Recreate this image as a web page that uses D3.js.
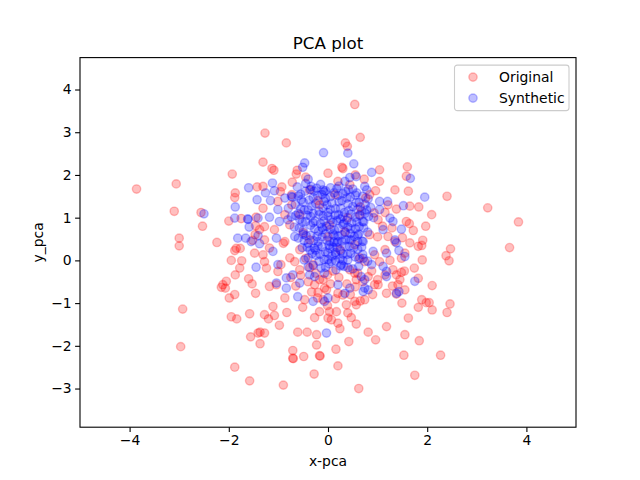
<!DOCTYPE html>
<html>
<head>
<meta charset="utf-8">
<script src="https://cdn.jsdelivr.net/npm/d3@7"></script>
<style>
  body { margin: 0; background: #fff; }
  text { font-family: "DejaVu Sans", sans-serif; }
</style>
</head>
<body>
<div id="pca_plot"></div>
<script>
// points, in PCA units
var originalX = [-3.86, -3.06, -1.93, -3.10, -2.56, -2.53, -3.00, -3.00, -2.24, -1.87, -1.88, -2.00, -1.75, -1.85, -1.77, -1.88, -1.95, -1.74, -1.78, -1.87,
  -2.05, -2.12, -2.15, -2.07, -1.99, -1.88, -2.93, -1.95, -1.84, -2.97, -1.88, -1.60, -1.58, -1.56, -1.58, -1.43, -1.46, -1.47, -1.52, -1.46,
  -1.41, -1.53, 0.54, -1.27, 0.65, -0.84, -1.31, -1.13, -1.09, -0.62, -0.64, -0.72, 0.00, -1.31, -0.93, -0.96, -0.73, -0.73, -1.31, -1.01,
  -1.45, -1.28, -1.38, 0.35, 0.39, 0.28, 0.30, 1.04, 0.73, 1.04, 0.96, 1.60, 1.58, 1.62, 0.76, 1.38, 1.15, 0.93, 1.01, 1.58,
  1.21, 2.40, 1.65, 1.83, 3.22, 2.09, 3.84, 1.64, 1.72, 1.97, 1.50, 1.65, 1.91, 1.89, 1.82, 2.47, 3.66, 2.38, 2.44, 1.90,
  1.48, 1.74, 1.54, 1.48, 1.82, 1.38, 1.41, 1.55, 2.10, 1.49, 1.89, 1.98, 2.04, 1.82, 2.10, 2.46, 2.40, 1.62, 1.55, 1.84,
  1.53, 2.27, 1.75, -1.37, -0.71, -0.71, -0.70, -0.49, -0.23, -0.17, -0.16, 0.16, 0.42, 0.96, 0.20, -0.28, -0.90, 0.62, -1.48, -1.31,
  -1.28, -1.24, -1.18, -1.04, -0.87, -1.11, -0.83, -1.28, -1.20, -1.08, -0.98, -1.37, -1.28, -0.61, -0.42, -0.23, -0.51, -0.47, -0.27, -0.17,
  -0.10, -0.07, -0.27, -0.87, -1.18, -1.28, -1.01, -0.57, -0.37, -0.17, -0.01, -0.33, -0.67, -0.77, -0.21, -0.01, 1.35, 1.55, 1.31, 1.15,
  1.01, 1.45, 1.18, 1.38, 0.44, 0.54, 0.57, 0.81, 0.94, 0.20, 0.30, 0.54, 0.74, 0.37, 0.57, 0.40, 0.03, 0.17, 0.00, 0.20,
  0.47, 0.07, 0.24, 0.57, 1.18, 0.81, -0.03, -0.57, 0.03, 0.34, 0.64, 0.84, -0.37, 0.24, 0.54, 0.94, -0.17, -0.77, -0.57, 0.74,
  1.15, 1.04, 1.29, 0.84, 0.44, 0.14, -0.37, -0.87, -1.08, 1.35, 1.21, 0.64,
  -0.55, -0.40, -0.25, -0.10, 0.05, 0.22, 0.38, 0.55, 0.70, -0.45, -0.30, 0.10, 0.60, 0.88, 1.00, -0.65, -0.20, 0.15,
  0.45, 0.65, 0.90, -0.50, 0.00, 0.40, -0.20, 0.65, 0.20, -0.45, 0.55, 1.00, 1.10, -0.90, -0.95, -0.75, 1.25, 1.30];
var originalY = [1.67, 1.79, 2.02, 1.15, 1.12, 0.80, 0.52, 0.34, 0.42, 1.58, 1.47, 0.92, 0.98, 0.28, 0.28, 0.23, 0.00, -0.01, -0.18, -0.34,
  -0.49, -0.57, -0.63, -0.65, -0.88, -0.80, -1.14, -1.32, -1.37, -2.02, -2.50, -0.43, -1.25, -1.79, -2.82, 1.72, 0.81, 0.60, 0.47, -0.77,
  -1.70, -0.55, 3.65, 2.98, 2.88, 2.75, 2.30, 2.15, 2.11, 2.11, 2.02, 1.83, 2.04, 1.73, 1.72, 1.61, 1.54, 1.30, 1.22, 1.38,
  1.01, 0.79, 0.72, 2.75, 2.67, 2.18, 2.15, 2.12, 1.90, 1.85, 1.63, 2.19, 1.97, 1.62, 1.46, 1.20, 1.12, 1.11, 0.95, 0.91,
  0.56, 1.50, 1.27, 1.25, 1.23, 1.07, 0.90, 0.86, 0.70, 0.80, 0.53, 0.41, 0.47, 0.35, 0.33, 0.27, 0.30, 0.11, -0.01, 0.01,
  0.05, -0.18, -0.25, -0.28, -0.42, -0.34, -0.57, -0.69, -0.59, -1.00, -0.92, -0.99, -0.99, -1.10, -1.16, -1.02, -1.22, -1.35, -1.74, -1.88,
  -2.22, -2.22, -2.69, -1.95, -2.11, -2.29, -2.30, -2.25, -1.98, -2.23, -2.24, -2.08, -1.90, -1.86, -2.47, -2.66, -2.92, -3.00, 0.17, 0.13,
  -0.03, -0.18, -0.61, -0.57, -0.88, -1.08, -1.22, -1.27, -1.37, -1.29, -1.52, -1.68, -1.70, -1.68, -1.68, -1.74, -1.10, -0.92, -1.34, -1.20,
  -0.92, -0.65, -0.57, 0.44, 0.29, 0.48, -0.26, -0.22, -0.17, -0.45, -0.34, -0.74, -0.03, 0.06, -0.88, -1.06, 0.44, 0.17, -0.22, -0.34,
  -0.57, -0.45, -0.77, -0.79, -0.22, -0.30, -0.45, -0.38, -0.57, -0.77, -0.81, -0.96, -0.92, -1.04, -1.04, -1.23, -1.20, -1.20, -1.35, -1.47,
  -1.34, -1.39, -1.60, -1.49, -1.55, -1.68, -0.69, 1.07, 0.83, 0.67, 1.07, 0.60, 0.48, 0.25, 0.37, 0.13, 1.30, 0.83, 0.25, -0.03,
  0.25, -0.03, 0.76, 1.54, 1.77, 1.54, 1.65, 1.07, 0.72, 1.65, 1.30, 0.06,
  -0.35, -0.50, -0.30, -0.45, -0.55, -0.40, -0.55, -0.62, -0.50, 0.05, -0.10, -0.25, -0.30, -0.25, -0.45, -0.60, -0.75, -0.90,
  -0.80, -0.95, -0.80, 0.65, 0.55, 1.00, 1.40, 1.25, 1.85, 1.95, 2.00, 0.55, 0.80, 0.40, -0.10, -0.40, 0.00, -0.60];

var syntheticX = [-2.50, -1.87, -1.88, -1.62, -1.61, -1.60, -1.82, -1.66, -1.59, -1.43, -1.41, -1.38, -1.45, -0.09, -0.47, -0.51, -0.40, -1.12, -1.26, -1.08,
  -1.16, -0.87, -0.74, -0.54, -0.34, -0.23, -0.10, -1.18, -1.01, -0.81, -0.98, -1.41, -1.04, -0.67, 0.40, 0.52, 0.88, 0.34, 0.44, 0.57,
  0.74, 0.78, 1.04, 1.20, 1.04, 1.52, 1.25, 1.31, 1.48, 1.11, 1.66, 1.95, 1.38, 1.35, 1.55, 1.43, 1.75, 1.43, 1.38, -1.55,
  -1.01, -1.11, -0.84, -1.04, -0.84, -0.61, -0.30, -0.71, -0.57, -0.37, -0.27, -0.07, -0.03, 0.20, 0.47, 0.71, 0.91, 1.18, 0.07, 0.27,
  0.40, 0.71, 0.88, 1.11, 1.18, 1.18, 0.67, 0.74, 0.20, 0.44, 0.34, 0.74, 0.81, 0.71, 0.00, -0.07,
  -0.62, -0.45, -0.28, -0.15, 0.05, 0.22, 0.41, 0.58, -0.72, -0.55, -0.38, -0.21, -0.05, 0.12, 0.28, 0.45, 0.63, 0.81,
  -0.80, -0.66, -0.48, -0.33, -0.18, -0.02, 0.15, 0.33, 0.50, 0.68, 0.86, -0.74, -0.57, -0.42, -0.26, -0.10, 0.06, 0.21, 0.38, 0.55, 0.72, 0.92,
  -0.68, -0.50, -0.35, -0.19, -0.03, 0.13, 0.30, 0.46, 0.63, 0.80, -0.60, -0.44, -0.29, -0.12, 0.04, 0.20, 0.36, 0.53, 0.69,
  -0.52, -0.36, -0.20, -0.06, 0.10, 0.26, 0.43, 0.60, -0.40, -0.24, -0.08, 0.08, 0.24, 0.39, 0.55, -0.30, -0.14, 0.02, 0.16, 0.32, 0.50,
  -0.46, -0.08, 0.30, -0.30, 0.00, 0.25, -0.15, 0.10, -0.40, 0.35, -0.22, 0.02, 0.18, -0.10, 0.48, -0.52, 0.62, -0.25, 0.15, -0.60, 0.75,
  -0.35, -0.05, 0.18, 0.36, 0.50, -0.60, -0.30, -0.12, 0.05, 0.20, 0.38, 0.55, 0.70,
  -0.50, -0.25, -0.08, 0.08, 0.22, 0.40, 0.57, 0.75, -0.55, -0.40, -0.10, 0.05, 0.25, 0.42, 0.60, 0.78,
  -0.65, -0.35, -0.18, 0.00, 0.14, 0.30, 0.46, 0.64, 0.82, -0.45, -0.30, -0.08, 0.10, 0.18, 0.32, 0.58, 0.70,
  -0.58, -0.27, -0.12, 0.05, 0.22, 0.40, 0.55, 0.72, -0.50, -0.35, -0.05, 0.12, 0.28, 0.45, 0.60,
  -0.48, -0.20, -0.02, 0.12, 0.28, 0.44, 0.60, -0.42, -0.28, -0.12, 0.04, 0.18, 0.35, 0.52, 0.68,
  -0.32, -0.16, 0.00, 0.16, 0.30, 0.46, 0.70, -0.48, -0.18, 0.00, 0.15, 0.30, 0.62, 0.80, -0.40, -0.05, 0.25, 0.40, 0.62];
var syntheticY = [1.09, 1.25, 0.99, 0.97, 0.96, 1.70, 0.52, 0.52, 0.78, 1.42, 0.99, 0.39, -0.16, 2.52, 2.28, 2.18, 1.90, 1.81, 1.58, 1.63,
  1.40, 1.46, 1.50, 1.42, 1.73, 1.69, 1.65, 1.01, 1.19, 0.95, 0.91, 0.58, 0.52, 0.56, 2.51, 2.26, 2.06, 1.85, 1.94, 1.96,
  1.73, 1.65, 1.38, 1.38, 1.19, 1.28, 0.99, 0.91, 0.73, 0.72, 1.92, 1.48, 0.41, 0.48, 0.09, 0.23, -0.49, -0.73, -0.77, 0.44,
  -0.10, 0.21, -0.41, -0.53, -0.65, -0.85, -0.96, -0.34, -0.53, -0.34, -0.38, -0.30, -1.70, 0.44, 0.48, 0.44, 0.21, 0.17, -0.03, -0.10,
  0.01, 0.05, -0.10, -0.14, -0.26, -0.38, -0.38, -0.45, -0.57, -0.65, -0.77, -0.65, -0.69, -0.73, -0.88, -0.96,
  1.72, 1.80, 1.62, 1.78, 1.70, 1.74, 1.66, 1.58, 1.48, 1.55, 1.41, 1.52, 1.45, 1.58, 1.40, 1.48, 1.36, 1.44,
  1.22, 1.31, 1.18, 1.27, 1.15, 1.30, 1.21, 1.12, 1.26, 1.16, 1.24, 1.02, 0.96, 1.06, 0.92, 1.04, 0.95, 1.07, 0.94, 1.01, 0.90, 1.00,
  0.78, 0.70, 0.82, 0.68, 0.80, 0.71, 0.84, 0.74, 0.79, 0.66, 0.52, 0.58, 0.46, 0.55, 0.44, 0.57, 0.48, 0.56, 0.45,
  0.30, 0.24, 0.34, 0.20, 0.31, 0.22, 0.33, 0.26, 0.06, 0.12, 0.02, 0.10, 0.04, 0.14, 0.08, -0.12, -0.18, -0.08, -0.22, -0.14, -0.20,
  1.62, 1.60, 1.56, 1.10, 1.12, 0.97, 0.86, 0.62, 0.40, 0.65, 0.56, 0.36, 0.42, 0.72, 0.88, 0.90, 0.62, 0.24, 0.18, 1.10, 1.10,
  1.66, 1.63, 1.68, 1.61, 1.67, 1.51, 1.47, 1.54, 1.49, 1.52, 1.46, 1.53, 1.50,
  1.36, 1.33, 1.38, 1.34, 1.37, 1.32, 1.35, 1.31, 1.21, 1.18, 1.23, 1.19, 1.22, 1.17, 1.20, 1.18,
  1.05, 1.03, 1.07, 1.04, 1.06, 1.02, 1.08, 1.05, 1.03, 0.91, 0.88, 0.92, 0.89, 0.93, 0.87, 0.90, 0.91,
  0.76, 0.74, 0.77, 0.73, 0.75, 0.78, 0.74, 0.76, 0.61, 0.59, 0.62, 0.58, 0.60, 0.63, 0.59,
  0.46, 0.44, 0.47, 0.43, 0.45, 0.48, 0.44, 0.31, 0.29, 0.32, 0.28, 0.30, 0.33, 0.29, 0.31,
  0.16, 0.14, 0.17, 0.13, 0.15, 0.16, 0.14, 0.01, -0.02, 0.02, -0.01, 0.00, 0.03, -0.02, -0.15, -0.16, -0.13, -0.17, -0.14];

var xTicks = [-4, -2, 0, 2, 4];
var yTicks = [-3, -2, -1, 0, 1, 2, 3, 4];
var seriesNames = ["Original", "Synthetic"];
var seriesColors = ["red", "blue"];

// set the dimensions and margins of the graph
var margin = { top: 57.6, right: 64, bottom: 52.8, left: 80 },
    width = 640 - margin.left - margin.right,
    height = 480 - margin.top - margin.bottom;

var svg = d3.select("#pca_plot")
    .append("svg")
    .attr("width", 640)
    .attr("height", 480)
    .append("g")
    .attr("transform", "translate(" + margin.left + "," + margin.top + ")");

var x = d3.scaleLinear().domain([-5, 5]).range([0, width]);
var y = d3.scaleLinear().domain([-3.905, 4.747]).range([height, 0]);

// points, original first so synthetic sits on top
function drawPoints(xs, ys, color) {
    svg.append("g")
        .selectAll("circle")
        .data(xs.map(function (d, i) { return [d, ys[i]]; }))
        .enter()
        .append("circle")
        .attr("cx", function (d) { return x(d[0]); })
        .attr("cy", function (d) { return y(d[1]); })
        .attr("r", 4.17)
        .attr("fill", color)
        .attr("fill-opacity", 0.25)
        .attr("stroke", color)
        .attr("stroke-opacity", 0.25)
        .attr("stroke-width", 1.4);
}
drawPoints(originalX, originalY, seriesColors[0]);
drawPoints(syntheticX, syntheticY, seriesColors[1]);

// axes
var xAxis = svg.append("g")
    .attr("transform", "translate(0," + height + ")")
    .call(d3.axisBottom(x).tickValues(xTicks).tickSizeOuter(0).tickSize(4.9).tickPadding(3.5));
var yAxis = svg.append("g")
    .call(d3.axisLeft(y).tickValues(yTicks).tickSizeOuter(0).tickSize(4.9).tickPadding(3.5));
[xAxis, yAxis].forEach(function (a) {
    a.select(".domain").remove();
    a.selectAll("line").attr("stroke", "#000").attr("stroke-width", 1.1);
    a.selectAll("text").attr("font-family", "DejaVu Sans").attr("font-size", 13.9).attr("fill", "#000");
});

// frame
svg.append("rect")
    .attr("width", width)
    .attr("height", height)
    .attr("fill", "none")
    .attr("stroke", "#000")
    .attr("stroke-width", 1.1);

// title and labels
svg.append("text")
    .attr("x", width / 2)
    .attr("y", -8.5)
    .attr("text-anchor", "middle")
    .attr("font-size", 16.7)
    .text("PCA plot");

svg.append("text")
    .attr("x", width / 2)
    .attr("y", height + 38.5)
    .attr("text-anchor", "middle")
    .attr("font-size", 13.9)
    .text("x-pca");

svg.append("text")
    .attr("transform", "rotate(-90)")
    .attr("x", -height / 2)
    .attr("y", -37)
    .attr("text-anchor", "middle")
    .attr("font-size", 13.9)
    .text("y_pca");

// legend
var legend = svg.append("g")
    .attr("transform", "translate(" + (width - 121.5) + ",7.5)");
legend.append("rect")
    .attr("width", 114.5)
    .attr("height", 45.5)
    .attr("rx", 2.8)
    .attr("fill", "#fff")
    .attr("fill-opacity", 0.8)
    .attr("stroke", "#ccc")
    .attr("stroke-width", 1.1);
seriesNames.forEach(function (name, i) {
    legend.append("circle")
        .attr("cx", 18.5)
        .attr("cy", 12 + i * 21)
        .attr("r", 4.17)
        .attr("fill", seriesColors[i])
        .attr("fill-opacity", 0.25)
        .attr("stroke", seriesColors[i])
        .attr("stroke-opacity", 0.25)
        .attr("stroke-width", 1.4);
    legend.append("text")
        .attr("x", 44.5)
        .attr("y", 17 + i * 21)
        .attr("font-size", 13.9)
        .text(name);
});
</script>
</body>
</html>
